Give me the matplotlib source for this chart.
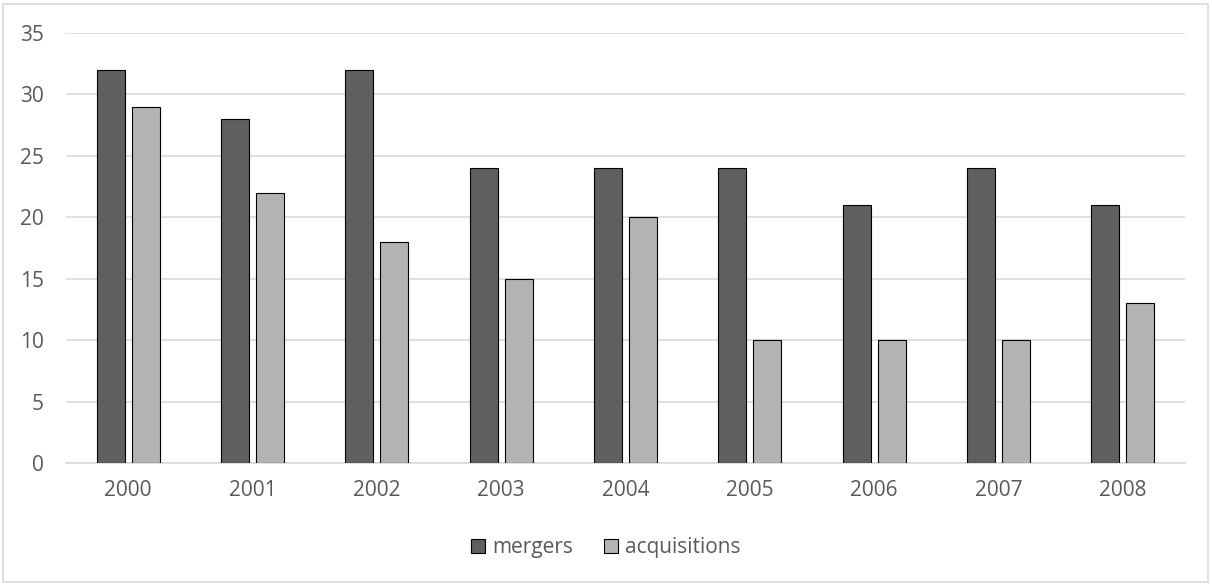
import numpy as np
import matplotlib.pyplot as plt
import matplotlib.patches as mpatches

years = ['2000', '2001', '2002', '2003', '2004', '2005', '2006', '2007', '2008']
mergers = [32, 28, 32, 24, 24, 24, 21, 24, 21]
acquisitions = [29, 22, 18, 15, 20, 10, 10, 10, 13]

plt.rcParams['font.family'] = ['Open Sans', 'DejaVu Sans']

fig = plt.figure(figsize=(12.12, 5.85), dpi=100)
ax = fig.add_axes([66/1212, 1 - 463/585, (1185-66)/1212, (463-33)/585])

x = np.arange(len(years))
w = 0.225
ax.bar(x - 0.14, mergers, w, color='#5f5f5f', edgecolor='black', linewidth=0.8, label='mergers', zorder=3)
ax.bar(x + 0.14, acquisitions, w, color='#b3b3b3', edgecolor='black', linewidth=0.8, label='acquisitions', zorder=3)

ax.set_xlim(-0.5, len(years) - 0.5)
ax.set_ylim(0, 35)
ax.set_yticks(range(0, 36, 5))
ax.set_xticks(x)
ax.set_xticklabels(years)
ax.yaxis.grid(True, color='#d9d9d9', linewidth=1.2, zorder=0)
for s in ['top', 'right', 'left']:
    ax.spines[s].set_visible(False)
ax.spines['bottom'].set_color('#d9d9d9')
ax.spines['bottom'].set_linewidth(1.2)
ax.tick_params(length=0, labelsize=15, labelcolor='#595959')
ax.tick_params(axis='y', pad=16)
ax.tick_params(axis='x', pad=12)

fig.legend(loc='center', bbox_to_anchor=(0.5, 1 - 548/585), ncol=2, frameon=False,
           fontsize=15, labelcolor='#595959', handlelength=0.65, handleheight=0.65,
           handletextpad=0.35, columnspacing=1.5)

border = mpatches.Rectangle((3/1212, 3/585), 1 - 7/1212, 1 - 7/585, transform=fig.transFigure,
                            fill=False, edgecolor='#d9d9d9', linewidth=1.2)
fig.patches.append(border)

fig.savefig('out.png', dpi=100)
